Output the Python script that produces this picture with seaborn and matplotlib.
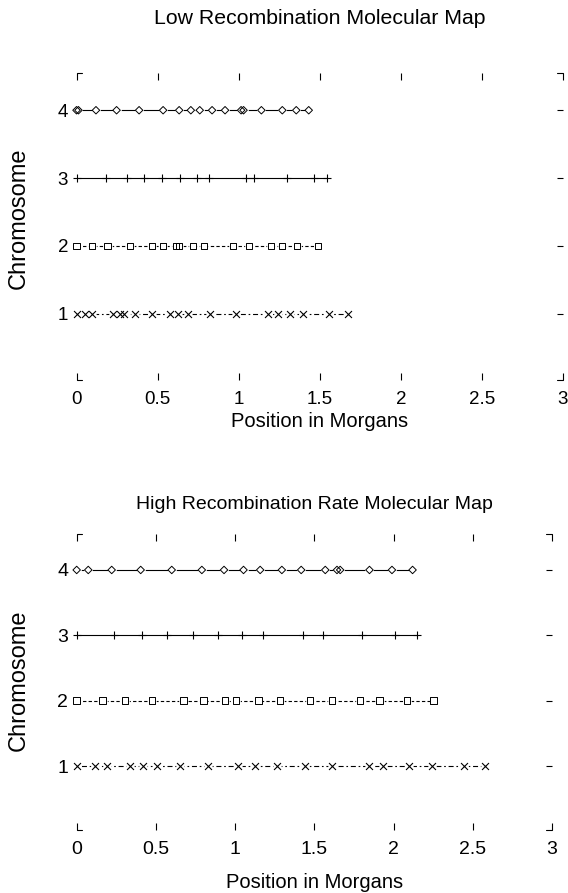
import numpy as np
import pandas as pd
import matplotlib
matplotlib.use("Agg")
import matplotlib.pyplot as plt
import seaborn as sns

sns.set_theme(style="white")
plt.rcParams["font.family"] = ["Liberation Sans", "DejaVu Sans"]

# Marker positions (Morgans) along each chromosome
low_chr1 = [0.0, 0.05, 0.094, 0.227, 0.268, 0.292, 0.36, 0.463, 0.575, 0.627,
            0.688, 0.822, 0.986, 1.18, 1.241, 1.314, 1.395, 1.56, 1.673]
low_chr2 = [0.0, 0.097, 0.192, 0.329, 0.466, 0.534, 0.612, 0.632, 0.719, 0.785,
            0.965, 1.062, 1.2, 1.268, 1.359, 1.488]
low_chr3 = [0.0, 0.18, 0.309, 0.417, 0.528, 0.637, 0.74, 0.815, 1.047, 1.092,
            1.297, 1.462, 1.546]
low_chr4 = [0.0, 0.012, 0.12, 0.247, 0.386, 0.534, 0.633, 0.705, 0.76, 0.836,
            0.916, 1.015, 1.03, 1.14, 1.269, 1.355, 1.432]

high_chr1 = [0.0, 0.116, 0.19, 0.337, 0.421, 0.505, 0.653, 0.831, 1.021, 1.126,
             1.263, 1.442, 1.611, 1.848, 1.933, 2.095, 2.243, 2.442, 2.579]
high_chr2 = [0.0, 0.164, 0.305, 0.474, 0.673, 0.8, 0.937, 1.006, 1.147, 1.284,
             1.474, 1.611, 1.79, 1.912, 2.085, 2.253]
high_chr3 = [0.0, 0.236, 0.411, 0.569, 0.737, 0.895, 1.046, 1.179, 1.43, 1.554,
             1.8, 2.011, 2.148]
high_chr4 = [0.0, 0.073, 0.221, 0.404, 0.6, 0.79, 0.93, 1.053, 1.158, 1.295,
             1.417, 1.569, 1.643, 1.663, 1.848, 1.99, 2.12]

chromosomes = [1, 2, 3, 4]
x_ticks = [0, 0.5, 1, 1.5, 2, 2.5, 3]
x_tick_labels = ["0", "0.5", "1", "1.5", "2", "2.5", "3"]
y_tick_labels = ["1", "2", "3", "4"]

# symbol / line style per chromosome (R-like pch and lty)
symbols = {1: "x", 2: "s", 3: "+", 4: "D"}
sym_size = {1: 5.0, 2: 4.6, 3: 5.3, 4: 3.8}
gap_size = {1: 6.0, 2: 6.2, 4: 6.2}
line_styles = {1: (0, (1.5, 2.5, 4.5, 2.5)), 2: (0, (3, 2)), 3: "-", 4: "-"}


def long_table(maps):
    rows = []
    for c, pos in zip(chromosomes, maps):
        for p in pos:
            rows.append({"chrom": c, "pos": p})
    return pd.DataFrame(rows)


def draw_map(ax, df, title, title_fs, title_pad, tick_fs, xlab_y, ylab_x, ylab_y):
    for c in chromosomes:
        sub = df[df["chrom"] == c]
        sns.lineplot(data=sub, x="pos", y="chrom", ax=ax, color="black",
                     linewidth=0.8, linestyle=line_styles[c], estimator=None,
                     sort=False, legend=False, zorder=1)
    # white gaps around points, as with type = "b"
    for c in chromosomes:
        if c == 3:
            continue
        sub = df[df["chrom"] == c]
        ax.scatter(sub["pos"], sub["chrom"], s=gap_size[c] ** 2,
                   marker="o", color="white", linewidths=0, zorder=2,
                   clip_on=False)
    for c in chromosomes:
        sub = df[df["chrom"] == c]
        m = symbols[c]
        if m in ("x", "+"):
            sns.scatterplot(data=sub, x="pos", y="chrom", ax=ax, marker=m,
                            s=sym_size[c] ** 2, color="black", linewidth=0.8,
                            legend=False, zorder=3, clip_on=False)
        else:
            sns.scatterplot(data=sub, x="pos", y="chrom", ax=ax, marker=m,
                            s=sym_size[c] ** 2, facecolor="none",
                            edgecolor="black", linewidth=0.7,
                            legend=False, zorder=3, clip_on=False)
    for ln in ax.lines:
        ln.set_clip_on(False)

    ax.set_xlim(0, 3)
    ax.set_ylim(0.02, 4.55)
    for s in ax.spines.values():
        s.set_visible(False)
    ax.set_xticks(x_ticks)
    ax.set_xticklabels(x_tick_labels)
    ax.set_yticks(chromosomes)
    ax.set_yticklabels(y_tick_labels)
    ax.tick_params(axis="x", which="both", direction="in", length=5,
                   width=0.8, color="black", top=True, bottom=True,
                   labelsize=tick_fs, pad=8, labelcolor="black")
    ax.tick_params(axis="y", which="both", direction="in", length=4.5,
                   width=0.8, color="black", left=False, right=True,
                   labelsize=tick_fs, pad=6, labelcolor="black")
    # bracket stubs at the four corners
    stub = 0.012
    for (x0, x1, y) in [(0, stub, 0), (0, stub, 1), (1 - stub, 1, 0), (1 - stub, 1, 1)]:
        ax.plot([x0, x1], [y, y], transform=ax.transAxes, color="black",
                lw=0.8, clip_on=False)
    ax.set_title(title, fontsize=title_fs, pad=title_pad, color="black")
    ax.set_xlabel("Position in Morgans", fontsize=14.5, color="black")
    ax.set_ylabel("Chromosome", fontsize=17, color="black")
    ax.xaxis.set_label_coords(0.5, xlab_y)
    ax.yaxis.set_label_coords(ylab_x, ylab_y)


fig = plt.figure(figsize=(5.68, 8.93), dpi=100)
ax1 = fig.add_axes([0.1347, 0.5745, 0.8565, 0.3438])
ax2 = fig.add_axes([0.1350, 0.0705, 0.8368, 0.3315])

draw_map(ax1, long_table([low_chr1, low_chr2, low_chr3, low_chr4]),
         "Low Recombination Molecular Map", 15.3, 35, 13.5, -0.105, -0.096, 0.526)
draw_map(ax2, long_table([high_chr1, high_chr2, high_chr3, high_chr4]),
         "High Recombination Rate Molecular Map", 14, 18, 14, -0.145, -0.099, 0.505)

fig.savefig("out.png", dpi=100, facecolor="white")
